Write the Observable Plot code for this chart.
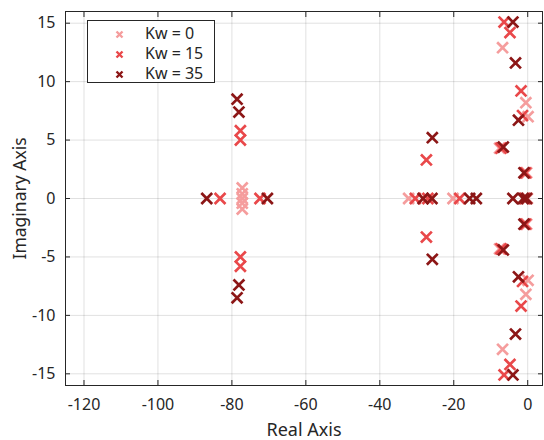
<!DOCTYPE html>
<html><head><meta charset="utf-8">
<script src="https://cdn.jsdelivr.net/npm/d3@7"></script>
<script src="https://cdn.jsdelivr.net/npm/@observablehq/plot@0.6"></script>
<style>
body{margin:0;background:#fff;font-family:"Noto Sans",sans-serif;}
#wrap{position:relative;width:544px;height:440px;overflow:hidden;}
#legend{position:absolute;left:87px;top:20px;width:128px;height:63px;border:1px solid #262626;background:#fff;box-sizing:border-box;font-family:"Noto Sans",sans-serif;font-size:16px;color:#262626;}
.row{position:absolute;left:0;height:20px;line-height:20px;}
.row svg{position:absolute;left:27px;top:6px;}
.row span{position:absolute;left:57px;top:-1px;white-space:nowrap;}
</style></head><body><div id="wrap"></div><script>
const seriesNames = ["Kw = 0", "Kw = 15", "Kw = 35"];
const seriesColors = ["#f59d9d", "#e9484a", "#8c1616"];

// Kw = 0 poles (real, imaginary)
const re0 = [-77.2, -77.2, -77.2, -77.2, -77.2, -32.2, -20.2, -7.6, -7.6, -6.8, -6.8, -0.5, -0.5, 0.1, 0.1, -0.3, -0.3, -0.1];
const im0 = [0.9, -0.9, 0.4, -0.4, 0, 0, 0, 4.3, -4.3, 12.9, -12.9, 8.2, -8.2, 7.0, -7.0, 2.2, -2.2, 0];

// Kw = 15 poles
const re15 = [-83.2, -72.4, -77.7, -77.7, -77.7, -77.7, -30.4, -27.0, -18.4, -27.4, -27.4, -7.2, -7.2, -6.4, -6.4, -4.8, -4.8, -1.8, -1.8, -1.4, -1.4, -0.6, -0.6, -0.8];
const im15 = [0, 0, 5.8, -5.8, 5.0, -5.0, 0, 0, 0, 3.3, -3.3, 4.3, -4.3, 15.1, -15.1, 14.2, -14.2, 9.2, -9.2, 7.1, -7.1, 2.2, -2.2, 0];

// Kw = 35 poles
const re35 = [-86.8, -70.4, -78.6, -78.6, -78.1, -78.1, -28.3, -25.9, -15.7, -13.9, -25.8, -25.8, -6.6, -6.6, -4.0, -4.0, -3.3, -3.3, -2.5, -2.5, -1.0, -1.0, -4.0, -1.2, -0.3];
const im35 = [0, 0, 8.5, -8.5, 7.4, -7.4, 0, 0, 0, 0, 5.2, -5.2, 4.4, -4.4, 15.1, -15.1, 11.6, -11.6, 6.7, -6.7, 2.2, -2.2, 0, 0, 0];

const xTicks = [-120, -100, -80, -60, -40, -20, 0];
const yTicks = [-15, -10, -5, 0, 5, 10, 15];

const data = [];
[[re0, im0], [re15, im15], [re35, im35]].forEach(([re, im], k) =>
  re.forEach((r, i) => data.push({re: r, im: im[i], series: seriesNames[k]})));

const axisColor = "#262626";
const fmt = d => d < 0 ? "-" + Math.abs(d) : String(d);
const chart = Plot.plot({
  width: 544, height: 440,
  marginLeft: 65, marginRight: 2, marginTop: 11, marginBottom: 55,
  style: {fontFamily: '"Noto Sans", sans-serif', fontSize: "16px", color: axisColor, background: "#fff"},
  x: {domain: [-125, 4]},
  y: {domain: [-16, 16]},
  color: {domain: seriesNames, range: seriesColors},
  marks: [
    Plot.gridX(xTicks, {stroke: "#000", strokeOpacity: 0.12}),
    Plot.gridY(yTicks, {stroke: "#000", strokeOpacity: 0.12}),
    Plot.dot(data, {x: "re", y: "im", stroke: "series", symbol: "times", r: 5, strokeWidth: 2.7}),
    Plot.axisX(xTicks, {anchor: "bottom", tickSize: 0, tickPadding: 13, tickFormat: fmt, label: null, fontSize: 16}),
    Plot.axisX(xTicks, {anchor: "bottom", tickSize: 0, tickFormat: () => "", label: "Real Axis", labelAnchor: "center", labelOffset: 50, labelArrow: "none", fontSize: 18}),
    Plot.axisY(yTicks, {anchor: "left", tickSize: 0, tickPadding: 10, tickFormat: fmt, label: null, fontSize: 16}),
    Plot.axisY(yTicks, {anchor: "left", tickSize: 0, tickFormat: () => "", label: "Imaginary Axis", labelAnchor: "center", labelOffset: 52, labelArrow: "none", fontSize: 17.5}),
    Plot.axisX(xTicks, {anchor: "bottom", tickSize: -5, tickFormat: () => "", label: null}),
    Plot.axisX(xTicks, {anchor: "top", tickSize: -5, tickFormat: () => "", label: null}),
    Plot.axisY(yTicks, {anchor: "left", tickSize: -5, tickFormat: () => "", label: null}),
    Plot.axisY(yTicks, {anchor: "right", tickSize: -5, tickFormat: () => "", label: null}),
    Plot.frame({stroke: axisColor})
  ]
});
const wrap = document.getElementById("wrap");
wrap.appendChild(chart);

// legend
const legend = document.createElement("div");
legend.id = "legend";
seriesNames.forEach((name, i) => {
  const row = document.createElement("div");
  row.className = "row";
  row.style.top = (3 + i * 20) + "px";
  row.style.width = "100%";
  row.innerHTML = `<svg width="9" height="9" viewBox="-4.5 -4.5 9 9"><path d="M-3,-3L3,3M3,-3L-3,3" stroke="${seriesColors[i]}" stroke-width="2.4" fill="none"/></svg><span>${name}</span>`;
  legend.appendChild(row);
});
wrap.appendChild(legend);
</script></body></html>
